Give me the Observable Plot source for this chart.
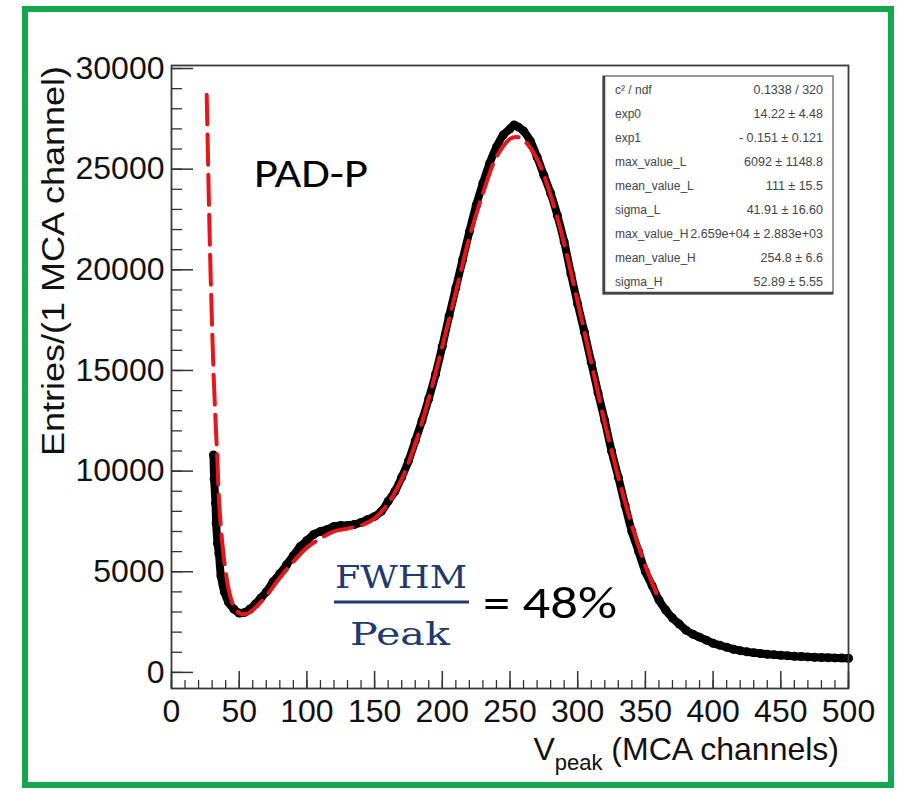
<!DOCTYPE html>
<html>
<head>
<meta charset="utf-8">
<script src="https://cdn.jsdelivr.net/npm/d3@7"></script>
<script src="https://cdn.jsdelivr.net/npm/@observablehq/plot@0.6"></script>
<style>
  html, body { margin: 0; padding: 0; background: #fff; }
  #chart { position: relative; width: 897px; height: 793px; }
</style>
</head>
<body>
<div id="chart"></div>
<script>
// ---- Data ----
const xMajorTicks = [0, 50, 100, 150, 200, 250, 300, 350, 400, 450, 500];
const yMajorTicks = [0, 5000, 10000, 15000, 20000, 25000, 30000];

// measured histogram (black points)
const dataChannel = [31, 31.5, 32.5, 33, 34, 35, 36.5, 39, 42, 46, 50, 54, 58, 62, 66, 70, 75, 80, 85, 90, 95, 100, 105, 110, 115, 120, 125, 130, 135, 140, 145, 150, 155, 160, 165, 170, 175, 180, 185, 190, 195, 200, 205, 210, 215, 220, 225, 230, 235, 240, 245, 250, 253, 256, 260, 265, 270, 275, 280, 285, 290, 295, 300, 305, 310, 315, 320, 325, 330, 335, 340, 345, 350, 355, 360, 365, 370, 375, 380, 385, 390, 395, 400, 405, 410, 415, 420, 425, 430, 435, 440, 445, 450, 455, 460, 465, 470, 475, 480, 485, 490, 495, 500];
const dataEntries = [10800, 9600, 8400, 7400, 6400, 5900, 4800, 4000, 3500, 3150, 2950, 2980, 3150, 3400, 3700, 4000, 4500, 4900, 5350, 5800, 6250, 6550, 6850, 7000, 7100, 7250, 7300, 7300, 7350, 7450, 7600, 7750, 8000, 8500, 9000, 9700, 10500, 11500, 12500, 13600, 14800, 16200, 17700, 19100, 20500, 21900, 23200, 24300, 25300, 26100, 26700, 27000, 27200, 27100, 26900, 26400, 25600, 24700, 23800, 22700, 21400, 19800, 18300, 16900, 15400, 13900, 12500, 11000, 9700, 8300, 7000, 6000, 5000, 4300, 3600, 3100, 2700, 2400, 2100, 1900, 1750, 1600, 1450, 1350, 1250, 1150, 1080, 1020, 980, 940, 900, 880, 850, 830, 800, 790, 770, 750, 740, 730, 720, 710, 700];

// fitted curve (red dashed)
const fitChannel = [26, 27, 28, 29, 30, 31, 32, 33, 34, 35, 37, 40, 43, 46, 50, 55, 60, 70, 80, 90, 100, 110, 120, 130, 140, 150, 160, 170, 180, 190, 200, 210, 220, 230, 240, 250, 255, 260, 270, 280, 290, 300, 310, 320, 330, 340, 350, 359];
const fitEntries = [28700, 25400, 22200, 19500, 17100, 15000, 13300, 11800, 10400, 8700, 6800, 5000, 3900, 3300, 2950, 2900, 3100, 3800, 4700, 5500, 6200, 6650, 7000, 7150, 7300, 7650, 8400, 9600, 11350, 13600, 16200, 18900, 21600, 23800, 25600, 26500, 26600, 26450, 25500, 23700, 21300, 18400, 15400, 12400, 9700, 7300, 5300, 3800];

// statistics box
const statLabels = ["c\u00b2 / ndf", "exp0", "exp1", "max_value_L", "mean_value_L", "sigma_L", "max_value_H", "mean_value_H", "sigma_H"];
const statValues = ["0.1338 / 320", "14.22 \u00b1 4.48", "- 0.151 \u00b1 0.121", "6092 \u00b1 1148.8", "111 \u00b1 15.5", "41.91 \u00b1 16.60", "2.659e+04 \u00b1 2.883e+03", "254.8 \u00b1 6.6", "52.89 \u00b1 5.55"];

const xLabelMain = "V";
const xLabelSub = "peak";
const xLabelRest = " (MCA channels)";
const yLabel = "Entries/(1 MCA channel)";
const padLabel = "PAD-P";
const fracTop = "FWHM";
const fracBottom = "Peak";
const fracResult = "= 48%";

// ---- Layout ----
const W = 897, H = 793;
const mL = 171, mR = 49, mT = 65, mB = 105;
const FW = W - mL - mR, FH = H - mT - mB;

const data = dataChannel.map((c, i) => ({c, n: dataEntries[i]}));
const fit = fitChannel.map((c, i) => ({c, n: fitEntries[i]}));
const xMinor = d3.range(0, 501, 10);
const yMinor = d3.range(0, 30001, 1000);
const AX = "Liberation Sans, Arial, Helvetica, sans-serif";

const chart = Plot.plot({
  width: W, height: H,
  marginLeft: mL, marginRight: mR, marginTop: mT, marginBottom: mB,
  x: {domain: [0, 500]},
  y: {domain: [-800, 30150]},
  style: {background: "transparent", fontFamily: AX, color: "#111"},
  marks: [
    Plot.line(data, {x: "c", y: "n", stroke: "#000", strokeWidth: 8, curve: "catmull-rom"}),
    Plot.dot(data, {x: "c", y: "n", r: 4.5, fill: "#000", stroke: "none"}),
    Plot.line(fit, {x: "c", y: "n", stroke: "#e8161b", strokeWidth: 4, strokeDasharray: "30,10", curve: "catmull-rom"}),
    Plot.frame({stroke: "#3a3a3a", strokeWidth: 1.8}),
    Plot.tickX(xMinor, {x: d => d, insetTop: FH - 8, stroke: "#333", strokeWidth: 1.3}),
    Plot.tickX(xMajorTicks, {x: d => d, insetTop: FH - 17, stroke: "#333", strokeWidth: 1.5}),
    Plot.tickY(yMinor, {y: d => d, insetRight: FW - 11, stroke: "#333", strokeWidth: 1.3}),
    Plot.tickY(yMajorTicks, {y: d => d, insetRight: FW - 22, stroke: "#333", strokeWidth: 1.5}),
    Plot.axisX({ticks: xMajorTicks, tickSize: 0, tickPadding: 11, label: null, fontSize: 32, tickFormat: d => String(d)}),
    Plot.axisY({ticks: yMajorTicks, tickSize: 0, tickPadding: 7, label: null, fontSize: 32, tickFormat: d => String(d)})
  ]
});

document.getElementById("chart").appendChild(chart);

// ---- Annotations ----
const svg = d3.select(chart);
const ann = svg.append("g").attr("class", "annotations").attr("text-anchor", "start");

// green outer border
ann.append("rect").attr("x", 25).attr("y", 9).attr("width", 866).attr("height", 776)
  .attr("fill", "none").attr("stroke", "#13a84b").attr("stroke-width", 6);

// axis titles
const xl = ann.append("text").attr("x", 839).attr("y", 760).attr("text-anchor", "end")
  .attr("font-family", AX).attr("font-size", 32).attr("fill", "#111");
xl.append("tspan").text(xLabelMain);
xl.append("tspan").attr("font-size", 22).attr("dy", 10).text(xLabelSub);
xl.append("tspan").attr("dy", -10).text(xLabelRest);

ann.append("text").attr("transform", "translate(64,66) rotate(-90)").attr("text-anchor", "end")
  .attr("font-family", AX).attr("font-size", 32).attr("fill", "#111")
  .attr("textLength", 390).attr("lengthAdjust", "spacingAndGlyphs").text(yLabel);

// PAD-P
ann.append("text").attr("x", 254).attr("y", 187).attr("text-anchor", "start").attr("font-family", "Carlito, Lato, sans-serif")
  .attr("font-size", 41).attr("fill", "#000").attr("textLength", 114).attr("lengthAdjust", "spacingAndGlyphs").text(padLabel);

// FWHM / Peak = 48%
const navy = "#1f3a70";
ann.append("text").attr("x", 335).attr("y", 588).attr("text-anchor", "start").attr("font-family", "DejaVu Serif, serif")
  .attr("font-size", 32).attr("fill", navy).attr("textLength", 132).attr("lengthAdjust", "spacingAndGlyphs").text(fracTop);
ann.append("line").attr("x1", 334).attr("x2", 469).attr("y1", 602).attr("y2", 602)
  .attr("stroke", navy).attr("stroke-width", 3);
ann.append("text").attr("x", 350).attr("y", 645).attr("text-anchor", "start").attr("font-family", "DejaVu Serif, serif")
  .attr("font-size", 32).attr("fill", navy).attr("textLength", 100).attr("lengthAdjust", "spacingAndGlyphs").text(fracBottom);
ann.append("text").attr("x", 483).attr("y", 618).attr("text-anchor", "start").attr("font-family", "Carlito, Lato, sans-serif")
  .attr("font-size", 46).attr("fill", "#000").attr("textLength", 134).attr("lengthAdjust", "spacingAndGlyphs").text(fracResult);

// statistics box
const bx = 603, by = 76, bw = 230, bh = 218;
ann.append("rect").attr("x", bx).attr("y", by).attr("width", bw).attr("height", bh)
  .attr("fill", "#fff").attr("stroke", "#555").attr("stroke-width", 1.2);
ann.append("line").attr("x1", bx + 1).attr("x2", bx + 1).attr("y1", by).attr("y2", by + bh).attr("stroke", "#444").attr("stroke-width", 2.5);
ann.append("line").attr("x1", bx).attr("x2", bx + bw).attr("y1", by + bh - 1).attr("y2", by + bh - 1).attr("stroke", "#444").attr("stroke-width", 2.5);
statLabels.forEach((lab, i) => {
  const yy = 94 + i * 24;
  ann.append("text").attr("x", 615).attr("y", yy).attr("text-anchor", "start").attr("font-family", AX).attr("font-size", 12)
    .attr("fill", "#444").text(lab);
  ann.append("text").attr("x", 823).attr("y", yy).attr("text-anchor", "end").attr("font-family", AX)
    .attr("font-size", 12.5).attr("fill", "#444").text(statValues[i]);
});
</script>
</body>
</html>
